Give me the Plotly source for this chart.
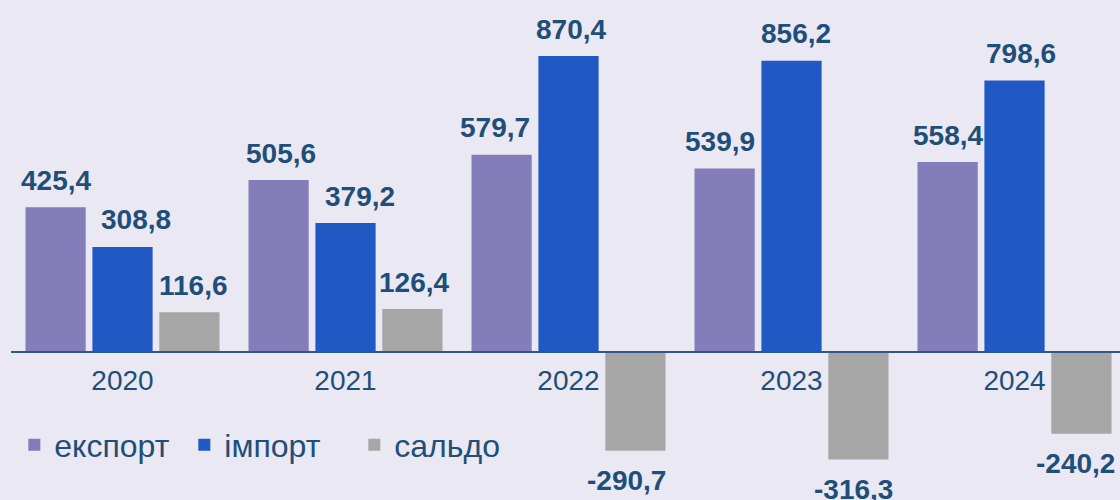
import plotly.graph_objects as go

years = ["2020", "2021", "2022", "2023", "2024"]
export_vals = [425.4, 505.6, 579.7, 539.9, 558.4]
import_vals = [308.8, 379.2, 870.4, 856.2, 798.6]
saldo_vals = [116.6, 126.4, -290.7, -316.3, -240.2]
series_names = ["експорт", "імпорт", "сальдо"]
series_colors = ["#837DBA", "#2058C4", "#A6A6A6"]

# small horizontal nudges (px) of value labels, as placed in the original
label_dx = [
    [0, 2, -7, -5, 0],
    [13, 14, 2, 4, 6],
    [4, 2, -9, -5, -6],
]

TEXT = "#1F4E79"
FONT = "Liberation Sans, Arial, sans-serif"
BG = "#EAE8F3"

series = [export_vals, import_vals, saldo_vals]

fig = go.Figure()
for name, vals, col in zip(series_names, series, series_colors):
    fig.add_trace(go.Bar(
        x=years, y=vals, name=name,
        marker=dict(color=col, line=dict(width=0)),
        hoverinfo="skip",
    ))

def fmt(v):
    return f"{v:.1f}".replace(".", ",")

slot = 0.3
annotations = []
for i, vals in enumerate(series):
    for j, v in enumerate(vals):
        annotations.append(dict(
            x=j + (i - 1) * slot, y=v, xref="x", yref="y",
            text=fmt(v), showarrow=False,
            xanchor="center", yanchor="middle",
            xshift=label_dx[i][j],
            yshift=27 if v >= 0 else -30,
            font=dict(family=FONT, size=28, color=TEXT, weight="bold"),
        ))

fig.update_layout(
    width=1120, height=500,
    margin=dict(l=11, r=0, t=0, b=0),
    paper_bgcolor=BG, plot_bgcolor=BG,
    barmode="group", bargap=0.1, bargroupgap=0.1,
    showlegend=True,
    legend=dict(
        orientation="h", x=0.003, xanchor="left", y=0.11, yanchor="middle",
        font=dict(family=FONT, size=32, color=TEXT),
        bgcolor="rgba(0,0,0,0)", traceorder="normal",
        entrywidth=125,
    ),
    annotations=annotations,
    xaxis=dict(
        type="category", range=[-0.5, 4.473],
        anchor="free", position=0.296,
        showline=True, linecolor="#2A5A8A", linewidth=2,
        showgrid=False, zeroline=False,
        ticks="", ticklabelstandoff=3,
        tickfont=dict(family=FONT, size=28, color=TEXT),
    ),
    yaxis=dict(
        range=[-435.2, 1035.1], visible=False,
        showgrid=False, zeroline=False,
    ),
)

fig.write_html(
    "out.html",
    config={"displayModeBar": False},
    post_script="document.body.style.margin='0';document.body.style.padding='0';document.body.style.background='%s';" % BG,
)
